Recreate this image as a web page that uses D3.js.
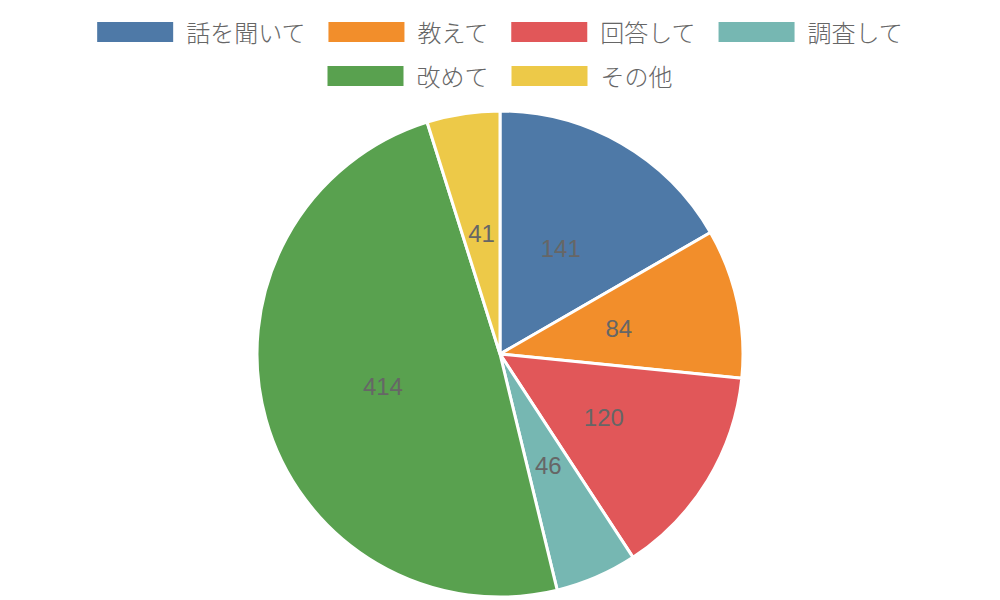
<!DOCTYPE html>
<html>
<head>
<meta charset="utf-8">
<script src="https://cdn.jsdelivr.net/npm/d3@7/dist/d3.min.js"></script>
<style>
  html, body { margin: 0; padding: 0; background: #fff; }
  svg { display: block; }
</style>
</head>
<body>
<svg id="chart" width="1000" height="600"></svg>
<script>
const categories = ["話を聞いて", "教えて", "回答して", "調査して", "改めて", "その他"];
const values = [141, 84, 120, 46, 414, 41];
const colors = ["#4e79a7", "#f28e2b", "#e15759", "#76b7b2", "#59a14f", "#edc948"];
const legendRows = [[0, 1, 2, 3], [4, 5]];

const W = 1000, H = 600;
const cx = 500, cy = 354, R = 243;
const svg = d3.select("#chart");

const data = categories.map((c, i) => ({ name: c, value: values[i], color: colors[i] }));

const pie = d3.pie().value(d => d.value).sort(null);
const arc = d3.arc().innerRadius(0).outerRadius(R);
const labelArc = d3.arc().innerRadius(0).outerRadius(R);

const g = svg.append("g").attr("transform", `translate(${cx},${cy})`);
const arcs = pie(data);

g.selectAll("path.slice").data(arcs).join("path")
  .attr("class", "slice")
  .attr("d", arc)
  .attr("fill", d => d.data.color)
  .attr("stroke", "#fff")
  .attr("stroke-width", 3)
  .attr("stroke-linejoin", "round");

g.selectAll("text.lbl").data(arcs).join("text")
  .attr("class", "lbl")
  .attr("transform", d => `translate(${labelArc.centroid(d)})`)
  .attr("text-anchor", "middle")
  .attr("dominant-baseline", "central")
  .attr("font-family", "'Liberation Sans', Arial, sans-serif")
  .attr("font-size", 24)
  .attr("fill", "#666")
  .text(d => d.data.value);

// Legend
const rectW = 76, rectH = 20, textGap = 13, itemGap = 23;
const rowY = [22, 66];
const legend = svg.append("g");
legendRows.forEach((row, ri) => {
  const rowG = legend.append("g");
  const items = row.map(i => {
    const ig = rowG.append("g");
    ig.append("rect").attr("width", rectW).attr("height", rectH).attr("fill", colors[i]);
    const t = ig.append("text")
      .attr("x", rectW + textGap)
      .attr("y", rectH / 2 - 1)
      .attr("dominant-baseline", "central")
      .attr("font-family", "'Noto Sans CJK JP', 'Noto Sans', sans-serif")
      .attr("font-size", 24)
      .attr("font-weight", 300)
      .attr("fill", "#666")
      .text(categories[i]);
    const tw = t.node().getComputedTextLength();
    return { ig, w: rectW + textGap + tw };
  });
  const total = items.reduce((s, it) => s + it.w, 0) + itemGap * (items.length - 1);
  let x = W / 2 - total / 2;
  items.forEach(it => {
    it.ig.attr("transform", `translate(${x},${rowY[ri]})`);
    x += it.w + itemGap;
  });
});
</script>
</body>
</html>
